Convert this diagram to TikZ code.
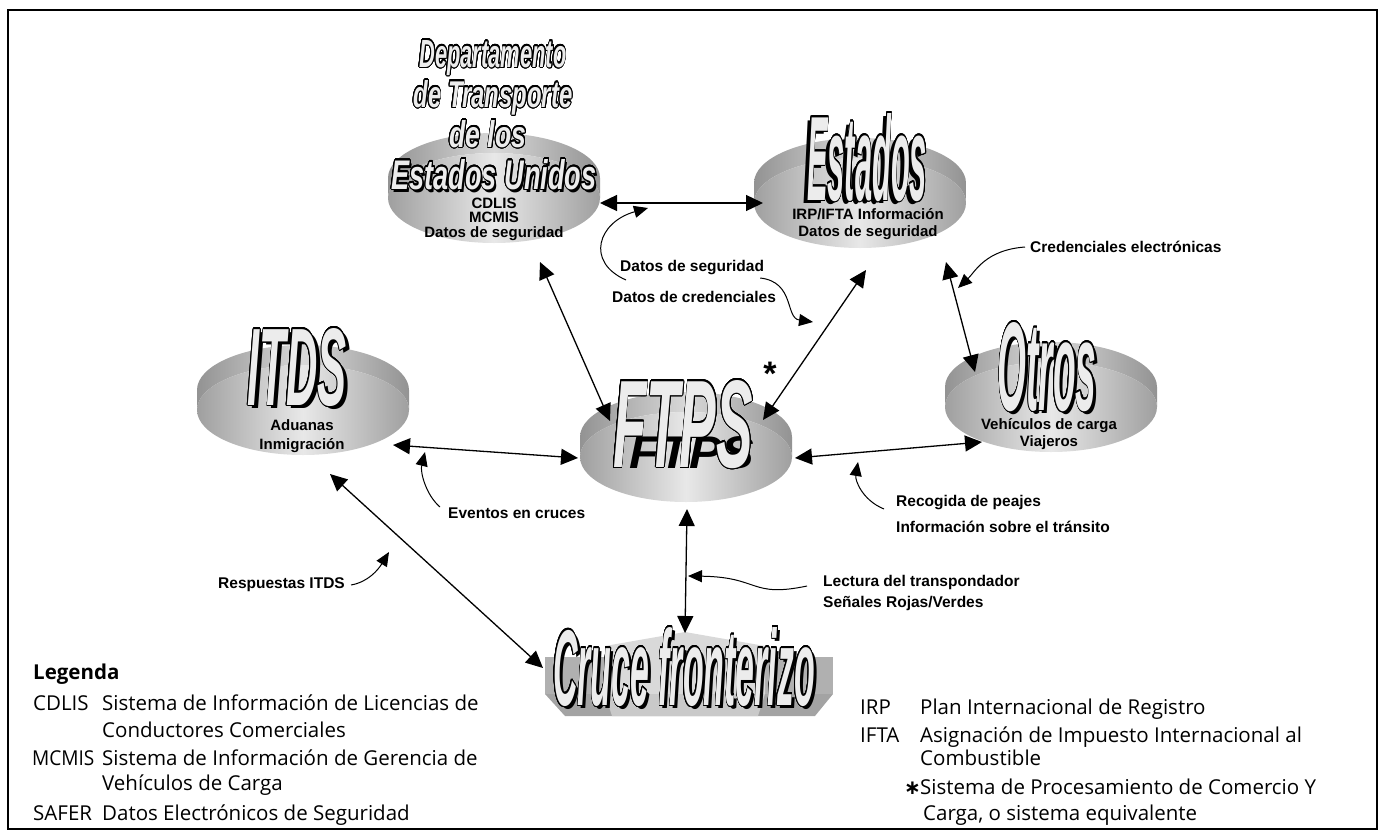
\documentclass[tikz,border=0pt]{standalone}
\usepackage{fontspec}
\setmainfont{Liberation Sans}
\newfontfamily\legendfont{Open Sans}
\newfontfamily\symbolfont{DejaVu Sans}
\usepackage{contour}
\usetikzlibrary{arrows.meta,positioning,calc}

\definecolor{artfill}{RGB}{236,236,236}
\contourlength{1.3pt}
\contournumber{24}

% word art: width, height, word
\newcommand{\artword}[3]{\pgfmathsetmacro\artsz{#2*1.37}%
  \resizebox{#1pt}{#2pt}{\fontsize{\artsz}{\artsz}\selectfont\bfseries\itshape\contour{black}{\textcolor{artfill}{#3}}}}
\newcommand{\artshade}[3]{\pgfmathsetmacro\artsz{#2*1.37}%
  \resizebox{#1pt}{#2pt}{\fontsize{\artsz}{\artsz}\selectfont\bfseries\itshape\textcolor{black}{#3}}}

\tikzset{
  link/.style={line width=1.3pt,{Triangle[length=17pt,width=16pt]}-{Triangle[length=17pt,width=16pt]}},
  callout/.style={line width=1pt,-{Triangle[length=14pt,width=12pt]}},
  lbl/.style={font=\fontsize{15.5}{19}\selectfont\bfseries,inner sep=0pt,anchor=west},
  disklbl/.style={font=\fontsize{15}{17}\selectfont\bfseries,inner sep=0pt,align=center},
  art/.style={anchor=base,inner sep=0pt},
  legtxt/.style={font=\legendfont\fontsize{20.5}{27}\selectfont,inner sep=0pt,anchor=base west},
  disk/.pic={
    \shade[left color=gray!85,right color=gray!85,middle color=gray!30]
      (-106,0) -- (-106,20) arc[start angle=180,end angle=0,x radius=106,y radius=45]
      -- (106,0) arc[start angle=0,end angle=180,x radius=106,y radius=45] -- cycle;
    \shade[left color=gray!75,right color=gray!75,middle color=gray!18]
      (0,0) ellipse[x radius=106,y radius=45];
  }
}

\begin{document}
\begin{tikzpicture}[x=1pt,y=1pt,yscale=-1]
  \useasboundingbox (0,0) rectangle (1384,836);

  %Shape: Frame
  \draw[line width=2.5pt] (8,10) rectangle (1377,829);

  %Shape: Disks
  \pic at (494,198) {disk};
  \pic at (860,203) {disk};
  \pic at (303,410) {disk};
  \pic at (686,457) {disk};
  \pic at (1051,407) {disk};

  %Shape: Cruce fronterizo block
  \fill[gray!62] (545,657) rectangle (833,694);
  \fill[gray!30] (605,646) -- (685,632) -- (765,646) -- (765,694) -- (605,694) -- cycle;
  \fill[gray!72] (545,694) -- (833,694) -- (815,716) -- (565,716) -- cycle;
  \fill[gray!42] (605,694) -- (765,694) -- (758,716) -- (612,716) -- cycle;

  % Word art shadows
  \node[art] (dotShade) at (496,192) {\artshade{205}{30}{Estados Unidos}};
  \node[art] (stShade) at (863,203) {\artshade{120}{87}{Estados}};
  \node[art] (itShade) at (301,408) {\artshade{99}{77}{ITDS}};
  \node[art] (ftpsShade) at (692,468) {\artshade{125}{32}{FTPS}};
  \node[art] (otShade) at (1050,413) {\artshade{99}{88}{Otros}};
  \node[art] (crShade) at (687,708) {\artshade{262}{78}{Cruce fronterizo}};

  % Word art
  \node[art] (dotA) at (493,67) {\artword{147}{27}{Departamento}};
  \node[art] (dotB) at (493,107) {\artword{159}{27}{de Transporte}};
  \node[art] (dotC) at (488,147) {\artword{77}{27}{de los}};
  \node[art] (dotD) at (494,189) {\artword{205}{30}{Estados Unidos}};
  \node[art] (stArt) at (867,200) {\artword{120}{87}{Estados}};
  \node[art] (itArt) at (297,405) {\artword{99}{77}{ITDS}};
  \node[art] (ftpsArt) at (683,467) {\artword{140}{87}{FTPS}};
  \node[art] (otArt) at (1047,410) {\artword{99}{88}{Otros}};
  \node[art] (crArt) at (684,705) {\artword{262}{78}{Cruce fronterizo}};
  \node[inner sep=0pt,font=\fontsize{34}{34}\selectfont\bfseries] (star) at (770,374) {*};

  % Text Node: disk contents
  \node[disklbl,font=\fontsize{15}{14.5}\selectfont\bfseries] (dotTxt) at (494,219) {CDLIS\\MCMIS\\Datos de seguridad};
  \node[disklbl] (stTxt) at (868,224) {IRP/IFTA Información\\Datos de seguridad};
  \node[disklbl,font=\fontsize{15}{19}\selectfont\bfseries] (itTxt) at (302,436) {Aduanas\\Inmigración};
  \node[disklbl] (otTxt) at (1049,434) {Vehículos de carga\\Viajeros};

  % Arrow ends
  \coordinate (dotE) at (600,203);
  \coordinate (stW) at (763,203);
  \coordinate (dotS) at (540,262);
  \coordinate (ftpsNW) at (610,421);
  \coordinate (stS) at (866,270);
  \coordinate (ftpsNE) at (763,420);
  \coordinate (stSE) at (946,262);
  \coordinate (otN) at (975,372);
  \coordinate (itE) at (393,445);
  \coordinate (ftpsW) at (578,458);
  \coordinate (ftpsE) at (795,458);
  \coordinate (otW) at (982,442);
  \coordinate (itS) at (330,474);
  \coordinate (crW) at (543,668);
  \coordinate (ftpsS) at (687,509);
  \coordinate (crN) at (685,633);

  \draw[link] (dotE) -- (stW);
  \draw[link] (dotS) -- (ftpsNW);
  \draw[link] (stS) -- (ftpsNE);
  \draw[link] (stSE) -- (otN);
  \draw[link] (itE) -- (ftpsW);
  \draw[link] (ftpsE) -- (otW);
  \draw[link] (itS) -- (crW);
  \draw[link] (ftpsS) -- (crN);

  % Text Node: labels
  \node[lbl] (dsLbl) at (620,268) {Datos de seguridad};
  \node[lbl] (dcLbl) at (612,297) {Datos de credenciales};
  \node[lbl] (credLbl) at (1030,247) {Credenciales electrónicas};
  \node[lbl] (evLbl) at (448,513) {Eventos en cruces};
  \node[lbl] (recLbl) at (896,503) {Recogida de peajes};
  \node[lbl] (infLbl) at (896,527) {Información sobre el tránsito};
  \node[lbl] (respLbl) at (218,585) {Respuestas ITDS};
  \node[lbl] (lecLbl) at (823,582) {Lectura del transpondador};
  \node[lbl] (senLbl) at (823,603) {Señales Rojas/Verdes};

  % callouts
  \draw[callout] ([shift={(6,12)}]dsLbl.west) .. controls (585,262) and (598,222) .. (648,208);
  \draw[callout] ([shift={(-4,10)}]dsLbl.east) .. controls (795,282) and (785,318) .. (813,322);
  \draw[callout] ([shift={(-8,-6)}]evLbl.west) .. controls (426,495) and (420,472) .. (425,452);
  \draw[callout] ([shift={(-5,0)}]credLbl.west) .. controls (985,250) and (975,272) .. (958,288);
  \draw[callout] ([shift={(-12,6)}]recLbl.west) .. controls (862,500) and (855,480) .. (858,462);
  \draw[callout] ([shift={(6,0)}]respLbl.east) .. controls (368,582) and (378,570) .. (389,552);
  \draw[callout] ([shift={(-16,4)}]lecLbl.west) .. controls (750,598) and (760,577) .. (688,576);

  % Text Node: legend
  \node[legtxt,font=\legendfont\bfseries\fontsize{20.5}{27}\selectfont] (legHead) at (33,679) {Legenda};
  \node[legtxt] (cdlisKey) at (33,710) {CDLIS};
  \node[legtxt] (cdlisVal) at (102,710) {Sistema de Información de Licencias de};
  \node[legtxt] (cdlisVal2) at (102,737) {Conductores Comerciales};
  \node[legtxt] (mcmisKey) at (32,765) {\scalebox{0.93}[1]{MCMIS}};
  \node[legtxt] (mcmisVal) at (102,765) {Sistema de Información de Gerencia de};
  \node[legtxt] (mcmisVal2) at (102,790) {Vehículos de Carga};
  \node[legtxt] (saferKey) at (33,820) {SAFER};
  \node[legtxt] (saferVal) at (102,820) {Datos Electrónicos de Seguridad};
  \node[legtxt] (irpKey) at (860,714) {IRP};
  \node[legtxt] (irpVal) at (920,714) {Plan Internacional de Registro};
  \node[legtxt] (iftaKey) at (860,742) {IFTA};
  \node[legtxt] (iftaVal) at (920,742) {Asignación de Impuesto Internacional al};
  \node[legtxt] (iftaVal2) at (920,765) {Combustible};
  \node[legtxt,font=\symbolfont\bfseries\fontsize{20}{20}\selectfont] (starKey) at (904,794) {∗};
  \node[legtxt] (starVal) at (920,794) {Sistema de Procesamiento de Comercio Y};
  \node[legtxt] (starVal2) at (923,820) {Carga, o sistema equivalente};
\end{tikzpicture}
\end{document}
